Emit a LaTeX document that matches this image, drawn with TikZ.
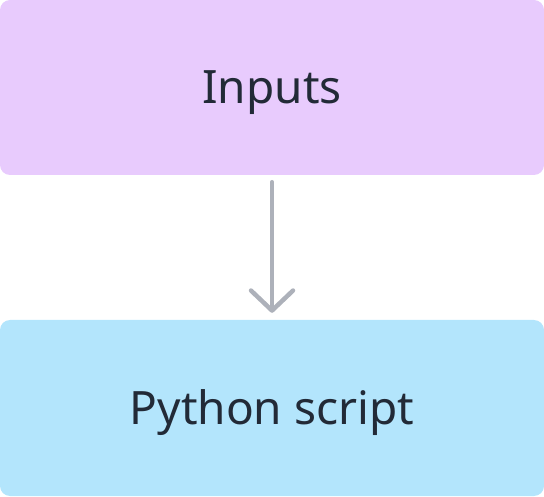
\documentclass[tikz,border=0pt]{standalone}
\usepackage{fontspec}
\setmainfont{Noto Sans}
\usetikzlibrary{arrows.meta}
\definecolor{inputbg}{HTML}{E8CBFD}
\definecolor{scriptbg}{HTML}{B3E5FC}
\definecolor{textdark}{HTML}{222A37}
\definecolor{arrowgrey}{HTML}{ADB1BA}
\tikzset{
    box/.style={rounded corners=10pt, minimum width=544pt, inner sep=0pt,
        text height=33pt, text depth=0pt,
        text=textdark, font=\fontsize{46}{56}\selectfont},
    flow/.style={arrowgrey, line width=4.5pt, line cap=round,
        -{Straight Barb[length=20pt, width=42pt, round]}}
}
\begin{document}
\begin{tikzpicture}[x=1pt, y=1pt]
    \useasboundingbox (0,0) rectangle (544,496);

    \node[box, fill=inputbg, minimum height=175pt] (inputs) at (272,408.5) {Inputs};
    \node[box, fill=scriptbg, minimum height=176pt] (script) at (272,88) {Python script};

    \draw[flow, shorten <=7pt, shorten >=7pt] (inputs.south) -- (script.north);
\end{tikzpicture}
\end{document}
